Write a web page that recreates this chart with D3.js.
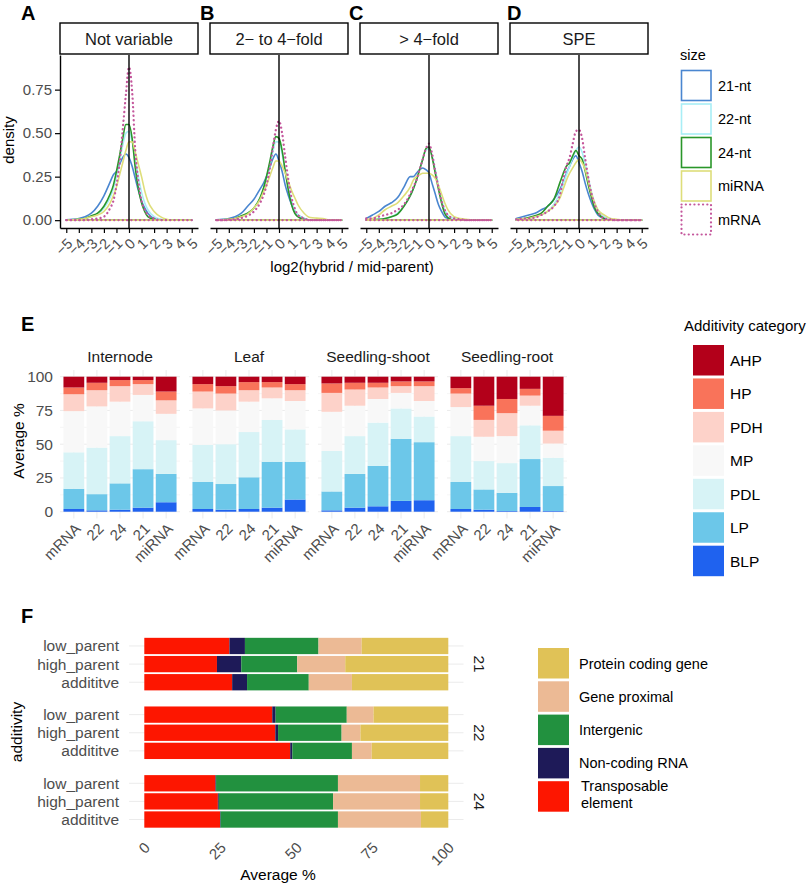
<!DOCTYPE html>
<html><head><meta charset="utf-8">
<script src="https://cdn.jsdelivr.net/npm/d3@7"></script>
<style>body{margin:0;background:#fff} svg{font-family:"Liberation Sans",Arial,Helvetica,sans-serif}</style>
</head><body><svg id="c" width="810" height="885"></svg>
<script>
// ---------------- DATA ----------------
// Panels A-D: density of log2(hybrid / mid-parent)
const densityFacets = ["Not variable", "2\u2212 to 4\u2212fold", "> 4\u2212fold", "SPE"];
const sizeLabels = ["21-nt", "22-nt", "24-nt", "miRNA", "mRNA"];
const sizeColors = ["#4a86d0", "#a8eef6", "#2a962a", "#dede7a", "#c4579c"];
const densX = [-5,-4.5,-4,-3.5,-3,-2.5,-2,-1.5,-1.25,-1,-0.75,-0.5,-0.25,0,0.25,0.5,0.75,1,1.25,1.5,2,2.5,3,3.5,4,4.5,5];
const densNotVariable = [
  [0.002,0.005,0.01,0.02,0.04,0.08,0.14,0.22,0.26,0.28,0.32,0.36,0.38,0.36,0.31,0.24,0.17,0.11,0.07,0.04,0.01,0.003,0,0,0,0,0],
  [0,0.002,0.005,0.01,0.02,0.035,0.07,0.13,0.18,0.25,0.34,0.43,0.5,0.51,0.45,0.35,0.25,0.16,0.1,0.06,0.02,0.005,0,0,0,0,0],
  [0,0.002,0.005,0.01,0.025,0.04,0.08,0.15,0.2,0.28,0.37,0.47,0.55,0.55,0.47,0.3,0.18,0.1,0.05,0.02,0.005,0,0,0,0,0,0],
  [0,0.002,0.005,0.01,0.02,0.03,0.05,0.1,0.14,0.19,0.26,0.33,0.4,0.45,0.45,0.39,0.32,0.25,0.17,0.11,0.05,0.02,0.005,0,0,0,0],
  [0,0,0,0,0.005,0.01,0.02,0.07,0.11,0.2,0.33,0.52,0.72,0.88,0.74,0.4,0.22,0.11,0.06,0.03,0.01,0,0,0,0,0,0]
];
const densTwoToFour = [
  [0.002,0.005,0.01,0.02,0.04,0.08,0.12,0.18,0.21,0.25,0.3,0.35,0.38,0.34,0.28,0.2,0.14,0.09,0.05,0.03,0.01,0,0,0,0,0,0],
  [0,0.002,0.005,0.01,0.02,0.04,0.07,0.13,0.18,0.24,0.31,0.39,0.45,0.45,0.38,0.28,0.19,0.11,0.06,0.03,0.01,0,0,0,0,0,0],
  [0,0.002,0.005,0.01,0.025,0.04,0.07,0.13,0.18,0.25,0.33,0.42,0.48,0.47,0.4,0.28,0.17,0.09,0.04,0.02,0.005,0,0,0,0,0,0],
  [0,0.002,0.005,0.01,0.02,0.035,0.07,0.12,0.16,0.2,0.25,0.3,0.34,0.34,0.31,0.27,0.22,0.17,0.13,0.09,0.04,0.015,0.012,0.01,0,0,0],
  [0,0,0.003,0.006,0.012,0.025,0.05,0.1,0.14,0.2,0.29,0.41,0.52,0.57,0.5,0.36,0.23,0.13,0.07,0.03,0.01,0,0,0,0,0,0]
];
const densOverFour = [
  [0.01,0.03,0.05,0.08,0.1,0.13,0.19,0.25,0.25,0.27,0.29,0.3,0.29,0.27,0.21,0.15,0.09,0.05,0.02,0.01,0,0,0,0,0,0,0],
  [0,0.002,0.005,0.01,0.02,0.04,0.08,0.14,0.18,0.23,0.29,0.35,0.4,0.41,0.37,0.29,0.2,0.12,0.06,0.03,0.01,0,0,0,0,0,0],
  [0,0.002,0.005,0.01,0.02,0.035,0.08,0.14,0.18,0.23,0.29,0.35,0.41,0.42,0.36,0.27,0.18,0.1,0.04,0.015,0,0,0,0,0,0,0],
  [0.005,0.01,0.03,0.06,0.08,0.1,0.14,0.19,0.23,0.25,0.26,0.27,0.27,0.27,0.26,0.24,0.2,0.15,0.1,0.06,0.02,0.01,0.005,0,0,0,0],
  [0.01,0.01,0.02,0.03,0.04,0.06,0.09,0.15,0.19,0.23,0.29,0.35,0.41,0.44,0.38,0.28,0.19,0.11,0.06,0.03,0.01,0.005,0,0,0,0,0]
];
const densSPE = [
  [0.01,0.02,0.03,0.04,0.06,0.08,0.12,0.18,0.22,0.27,0.31,0.35,0.37,0.33,0.28,0.21,0.15,0.1,0.06,0.03,0.01,0,0,0,0,0,0],
  [0.005,0.008,0.01,0.02,0.03,0.05,0.09,0.16,0.21,0.26,0.31,0.36,0.4,0.42,0.39,0.32,0.24,0.16,0.1,0.06,0.02,0.01,0,0,0,0,0],
  [0.005,0.008,0.015,0.025,0.04,0.08,0.12,0.22,0.27,0.31,0.33,0.37,0.4,0.37,0.35,0.28,0.2,0.13,0.07,0.04,0.01,0,0,0,0,0,0],
  [0.005,0.008,0.01,0.02,0.03,0.05,0.08,0.13,0.18,0.23,0.27,0.3,0.33,0.35,0.33,0.29,0.22,0.15,0.1,0.06,0.03,0.01,0.005,0,0,0,0],
  [0.005,0.008,0.01,0.015,0.03,0.05,0.08,0.15,0.24,0.31,0.36,0.44,0.51,0.52,0.47,0.35,0.24,0.15,0.09,0.05,0.01,0.005,0,0,0,0,0]
];
const densTicksX = [-5,-4,-3,-2,-1,0,1,2,3,4,5];
const densTicksY = [0, 0.25, 0.5, 0.75];

// Panel E: additivity categories (segment %), rows = smallRnaCats, columns = addCats (bottom -> top)
const tissues = ["Internode", "Leaf", "Seedling-shoot", "Seedling-root"];
const smallRnaCats = ["mRNA", "22", "24", "21", "miRNA"];
const addCats = ["BLP", "LP", "PDL", "MP", "PDH", "HP", "AHP"];
const addColors = ["#1f62ef", "#6cc7e9", "#d7f3f6", "#f8f8f8", "#fdd2c9", "#f9735a", "#b3001a"];
const eInternode = [
  [2, 15, 27, 30.5, 12.5, 5, 8],
  [1, 12, 34.5, 30.5, 12, 5.5, 4.5],
  [1.5, 19.5, 35, 25.5, 11.5, 4.5, 2.5],
  [3, 28.5, 35.5, 19.5, 8, 3, 2.5],
  [7, 21, 25, 19.5, 10, 6.5, 11]
];
const eLeaf = [
  [2, 20, 27.5, 27, 12.5, 5.5, 5.5],
  [1.5, 19, 29.5, 25, 12.5, 5.5, 7],
  [2, 23.5, 33.5, 22.5, 8.5, 6, 4],
  [3, 34, 31, 16, 8, 4, 4],
  [9, 28, 24, 21, 8, 4.5, 5.5]
];
const eSeedlingShoot = [
  [1, 14, 30, 29, 14, 7, 5],
  [3, 25, 28, 22.5, 12, 5, 4.5],
  [4, 30, 32, 17.5, 8.5, 3.5, 4.5],
  [8, 46, 22.5, 11.5, 5, 3.5, 3.5],
  [8.5, 43, 19, 11.5, 11, 3.5, 3.5]
];
const eSeedlingRoot = [
  [2, 20, 34, 21.5, 10, 4, 8.5],
  [1.5, 15, 21, 18, 12.5, 10.5, 21.5],
  [0.5, 13.5, 22, 20, 17, 10.5, 16.5],
  [3.5, 35.5, 25, 14.5, 7.5, 5, 9],
  [0.5, 18.5, 21, 10.5, 9.5, 11, 29]
];
const eTicks = [0, 25, 50, 75, 100];

// Panel F: genomic feature composition (segment %), columns = featureCats (left -> right)
const fGroups = ["21", "22", "24"];
const fRows = ["low_parent", "high_parent", "addititve"];
const featureCats = ["Transposable element", "Non-coding RNA", "Intergenic", "Gene proximal", "Protein coding gene"];
const featureColors = ["#fd1600", "#1e1a58", "#22913f", "#ecba95", "#e0c257"];
const f21 = [
  [28, 5.1, 24.2, 14.2, 28.5],
  [23.9, 8, 18.4, 15.8, 33.9],
  [28.9, 4.9, 20.3, 14.2, 31.7]
];
const f22 = [
  [42.1, 1.1, 23.4, 8.8, 24.6],
  [43.1, 0.9, 20.9, 6.2, 28.9],
  [48, 0.7, 19.6, 6.5, 25.2]
];
const f24 = [
  [23.4, 0.2, 40.1, 27, 9.3],
  [24.2, 0.3, 37.6, 28.6, 9.3],
  [24.9, 0.2, 38.6, 27.3, 9]
];
const fTicks = [0, 25, 50, 75, 100];

// ---------------- DRAWING ----------------
const svg = d3.select("#c");
svg.append("rect").attr("width", 810).attr("height", 885).attr("fill", "#fff");
const TICK = "#4d4d4d", DARK = "#1a1a1a";
const fmtMinus = d => d < 0 ? "\u2212" + (-d) : String(d);

// panel letters
[["A", 21, 20], ["B", 200, 20], ["C", 349, 20], ["D", 507, 20], ["E", 21, 331], ["F", 21, 623]].forEach(([t, x, y]) =>
  svg.append("text").attr("x", x).attr("y", y).attr("font-size", 20).attr("font-weight", "bold").attr("fill", "#000").text(t));

// ---- A-D density panels ----
const densAll = [densNotVariable, densTwoToFour, densOverFour, densSPE];
const dPanelX = [60, 210, 360, 510], dPanelW = 138, dTop = 55, dBot = 228;
const yD = d3.scaleLinear().domain([-0.045, 0.949]).range([dBot, dTop]);
densityFacets.forEach((name, i) => {
  const x0 = dPanelX[i];
  const xD = d3.scaleLinear().domain([-5.5, 5.5]).range([x0, x0 + dPanelW]);
  const g = svg.append("g");
  g.append("rect").attr("x", x0).attr("y", 23).attr("width", dPanelW).attr("height", 31)
    .attr("fill", "#fff").attr("stroke", "#000").attr("stroke-width", 1.4);
  g.append("text").attr("x", x0 + dPanelW / 2).attr("y", 44.5).attr("text-anchor", "middle")
    .attr("font-size", 16.5).attr("fill", DARK).text(name);
  const line = d3.line().x(d => xD(d[0])).y(d => yD(d[1])).curve(d3.curveMonotoneX);
  sizeLabels.forEach((s, j) => {
    const pts = densX.map((x, k) => [x, densAll[i][j][k]]);
    const p = line(pts) + `L${xD(densX[densX.length - 1])},${yD(0)}L${xD(densX[0])},${yD(0)}Z`;
    const path = g.append("path").attr("d", p).attr("fill", "none").attr("stroke", sizeColors[j])
      .attr("stroke-linejoin", "round");
    if (s === "mRNA") path.attr("stroke-width", 2.3).attr("stroke-dasharray", "0.1 4.2").attr("stroke-linecap", "round");
    else path.attr("stroke-width", 1.6);
  });
  // vertical zero line
  g.append("line").attr("x1", xD(0)).attr("x2", xD(0)).attr("y1", dTop).attr("y2", dBot)
    .attr("stroke", "#000").attr("stroke-width", 1.4);
  // bottom axis
  const ax = g.append("g").attr("transform", `translate(0,${dBot})`)
    .call(d3.axisBottom(xD).tickValues(densTicksX).tickSize(5).tickSizeOuter(0).tickFormat(fmtMinus));
  ax.select(".domain").attr("stroke", "#000").attr("stroke-width", 1.4);
  ax.selectAll(".tick line").attr("stroke", "#000").attr("stroke-width", 1.2);
  ax.selectAll(".tick text").attr("x", 0).attr("y", 0).attr("dy", "0.35em").attr("text-anchor", "end")
    .attr("transform", "translate(3,13) rotate(-45)").attr("font-size", 14.5).attr("fill", TICK)
    .attr("font-family", null);
  if (i === 0) {
    const ay = g.append("g").attr("transform", `translate(${x0},0)`)
      .call(d3.axisLeft(yD).tickValues(densTicksY).tickSize(5).tickSizeOuter(0).tickFormat(d3.format(".2f")));
    ay.select(".domain").attr("stroke", "#000").attr("stroke-width", 1.4);
    ay.selectAll(".tick line").attr("stroke", "#000").attr("stroke-width", 1.2);
    ay.selectAll(".tick text").attr("font-size", 15).attr("fill", TICK).attr("font-family", null);
  }
});
svg.append("text").attr("x", 352).attr("y", 272).attr("text-anchor", "middle").attr("font-size", 15)
  .attr("fill", "#000").text("log2(hybrid / mid-parent)");
svg.append("text").attr("transform", "translate(14,140) rotate(-90)").attr("text-anchor", "middle")
  .attr("font-size", 15).attr("fill", "#000").text("density");
// size legend
svg.append("text").attr("x", 680).attr("y", 60).attr("font-size", 14.5).attr("fill", "#000").text("size");
sizeLabels.forEach((s, j) => {
  const y = 70 + j * 33.5;
  const r = svg.append("rect").attr("x", 681.5).attr("y", y + 0.5).attr("width", 29.5).attr("height", 30)
    .attr("fill", "#fff").attr("stroke", sizeColors[j]);
  if (s === "mRNA") r.attr("stroke-width", 2.2).attr("stroke-dasharray", "0.1 4.2").attr("stroke-linecap", "round");
  else r.attr("stroke-width", 1.6);
  svg.append("text").attr("x", 718).attr("y", y + 20.5).attr("font-size", 14.5).attr("fill", "#000").text(s);
});

// ---- E stacked bars ----
const eAll = [eInternode, eLeaf, eSeedlingShoot, eSeedlingRoot];
const ePanelX = [60, 189, 318, 447], ePanelW = 120;
const yE = d3.scaleLinear().domain([-5, 105]).range([518.45, 369.95]);
const stackE = d3.stack().keys(addCats);
tissues.forEach((t, i) => {
  const x0 = ePanelX[i];
  const xE = d3.scalePoint().domain(smallRnaCats).range([x0, x0 + ePanelW]).padding(0.6);
  const bw = xE.step() * 0.9;
  const g = svg.append("g");
  // grid
  [12.5, 37.5, 62.5, 87.5].forEach(v => g.append("line").attr("x1", x0).attr("x2", x0 + ePanelW)
    .attr("y1", yE(v)).attr("y2", yE(v)).attr("stroke", "#f0f0f0").attr("stroke-width", 0.6));
  eTicks.forEach(v => g.append("line").attr("x1", x0).attr("x2", x0 + ePanelW)
    .attr("y1", yE(v)).attr("y2", yE(v)).attr("stroke", "#ebebeb").attr("stroke-width", 1));
  smallRnaCats.forEach(c => g.append("line").attr("x1", xE(c)).attr("x2", xE(c))
    .attr("y1", yE(105)).attr("y2", yE(-5)).attr("stroke", "#ebebeb").attr("stroke-width", 1));
  const table = smallRnaCats.map((c, r) => {
    const o = { cat: c };
    addCats.forEach((a, k) => o[a] = eAll[i][r][k]);
    return o;
  });
  const series = stackE(table);
  series.forEach((s, k) => {
    g.selectAll(null).data(s).enter().append("rect")
      .attr("x", d => xE(d.data.cat) - bw / 2).attr("width", bw)
      .attr("y", d => yE(d[1])).attr("height", d => yE(d[0]) - yE(d[1]))
      .attr("fill", addColors[k]);
  });
  g.append("text").attr("x", x0 + ePanelW / 2).attr("y", 362).attr("text-anchor", "middle")
    .attr("font-size", 15.5).attr("fill", DARK).text(t);
  smallRnaCats.forEach(c => g.append("text").attr("text-anchor", "end").attr("dy", "0.35em")
    .attr("transform", `translate(${xE(c) + 4},${526}) rotate(-45)`).attr("font-size", 15)
    .attr("fill", TICK).text(c));
});
eTicks.forEach(v => svg.append("text").attr("x", 53).attr("y", yE(v)).attr("dy", "0.35em")
  .attr("text-anchor", "end").attr("font-size", 15.5).attr("fill", TICK).text(v));
svg.append("text").attr("transform", "translate(24,441) rotate(-90)").attr("text-anchor", "middle")
  .attr("font-size", 15.5).attr("fill", "#000").text("Average %");
// E legend
svg.append("text").attr("x", 684).attr("y", 331).attr("font-size", 15).attr("fill", "#000").text("Additivity category");
addCats.slice().reverse().forEach((a, j) => {
  const k = addCats.length - 1 - j;
  const y = 345 + j * 33.45;
  svg.append("rect").attr("x", 693).attr("y", y).attr("width", 31).attr("height", 30.5).attr("fill", addColors[k]);
  svg.append("text").attr("x", 730).attr("y", y + 15.5).attr("dy", "0.35em").attr("font-size", 15.5)
    .attr("fill", "#000").text(a);
});

// ---- F horizontal stacked bars ----
const fAll = [f21, f22, f24];
const xF = d3.scaleLinear().domain([-5, 105]).range([129.1, 463.5]);
const fPanelTop = [635.1, 703.75, 772.4], fPanelH = 58;
const stackF = d3.stack().keys(featureCats);
fGroups.forEach((grp, i) => {
  const y0 = fPanelTop[i];
  const yF = d3.scalePoint().domain(fRows).range([y0, y0 + fPanelH]).padding(0.6);
  const bh = yF.step() * 0.9;
  const g = svg.append("g");
  fRows.forEach(r => g.append("line").attr("x1", xF(-5)).attr("x2", xF(105)).attr("y1", yF(r)).attr("y2", yF(r))
    .attr("stroke", "#ebebeb").attr("stroke-width", 1));
  const table = fRows.map((r, ri) => {
    const o = { row: r };
    featureCats.forEach((f, k) => o[f] = fAll[i][ri][k]);
    return o;
  });
  stackF(table).forEach((s, k) => {
    g.selectAll(null).data(s).enter().append("rect")
      .attr("y", d => yF(d.data.row) - bh / 2).attr("height", bh)
      .attr("x", d => xF(d[0])).attr("width", d => xF(d[1]) - xF(d[0]))
      .attr("fill", featureColors[k]);
  });
  fRows.forEach(r => g.append("text").attr("x", 119).attr("y", yF(r)).attr("dy", "0.35em")
    .attr("text-anchor", "end").attr("font-size", 15.5).attr("fill", TICK).text(r));
  g.append("text").attr("transform", `translate(474,${y0 + fPanelH / 2}) rotate(90)`).attr("text-anchor", "middle")
    .attr("font-size", 15.5).attr("fill", DARK).text(grp);
});
fTicks.forEach(v => svg.append("text").attr("text-anchor", "end").attr("dy", "0.35em")
  .attr("transform", `translate(${xF(v) + 3},${845}) rotate(-45)`).attr("font-size", 15)
  .attr("fill", TICK).text(v));
svg.append("text").attr("x", 278).attr("y", 880).attr("text-anchor", "middle").attr("font-size", 15.5)
  .attr("fill", "#000").text("Average %");
svg.append("text").attr("transform", "translate(22,732) rotate(-90)").attr("text-anchor", "middle")
  .attr("font-size", 15.5).attr("fill", "#000").text("additivity");
// F legend (reversed order: top = Protein coding gene)
featureCats.slice().reverse().forEach((f, j) => {
  const k = featureCats.length - 1 - j;
  const y = 648 + j * 33.3;
  svg.append("rect").attr("x", 538).attr("y", y).attr("width", 31).attr("height", 30.5).attr("fill", featureColors[k]);
  if (f === "Transposable element") {
    svg.append("text").attr("x", 581).attr("y", y + 10).attr("font-size", 14.5).attr("fill", "#000").text("Transposable");
    svg.append("text").attr("x", 581).attr("y", y + 27).attr("font-size", 14.5).attr("fill", "#000").text("element");
  } else {
    svg.append("text").attr("x", 579).attr("y", y + 15.5).attr("dy", "0.35em").attr("font-size", 14.5)
      .attr("fill", "#000").text(f);
  }
});
</script></body></html>
